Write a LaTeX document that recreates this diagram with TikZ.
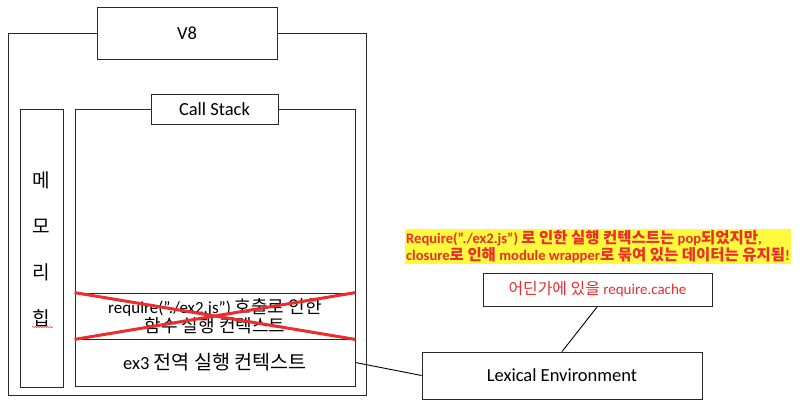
\documentclass[tikz,border=0pt]{standalone}
\usepackage{fontspec}
\setmainfont{Carlito}
\newfontfamily\kr{Noto Sans CJK KR}[Scale=1.06]
\usetikzlibrary{decorations.pathmorphing}
\definecolor{xred}{RGB}{235,45,45}
\definecolor{hl}{RGB}{255,250,60}
\definecolor{bx}{RGB}{40,40,40}
\tikzset{
  box/.style={draw=bx, line width=0.8pt, fill=white, inner sep=0pt, font=\fontsize{18.5}{21}\selectfont},
  heapch/.style={font=\kr\fontsize{18}{20}\selectfont},
  link/.style={draw=black, line width=0.9pt},
  cross/.style={draw=xred, line width=3pt},
}
\begin{document}
\begin{tikzpicture}[x=1pt,y=-1pt]
\useasboundingbox (0,0) rectangle (800,413);
% V8 frame
\node[box, minimum width=358, minimum height=362] (v8frame) at (187,214) {};
\node[box, minimum width=180, minimum height=52] (v8) at (187,33) {V8};
% heap
\node[box, minimum width=43, minimum height=278] (heap) at (41.5,248) {};
\node[heapch] (h1) at (41.5,180) {메};
\node[heapch] (h2) at (41.5,226) {모};
\node[heapch] (h3) at (41.5,272) {리};
\node[heapch] (h4) at (41.5,318) {힙};
\draw[xred, line width=0.5pt, decorate, decoration={snake, amplitude=0.6pt, segment length=2.5pt}] (32,327) -- (53,327);
% call stack
\node[box, minimum width=280, minimum height=277] (cs) at (215,247.5) {};
\node[box, minimum width=127, minimum height=30] (cslabel) at (214.5,109) {Call Stack};
\node[box, minimum width=280, minimum height=46, align=center, font=\fontsize{17}{18.5}\selectfont] (req) at (215,316)
  {require("./ex2.js") {\kr 호출로 인한}\\{\kr 함수 실행 컨텍스트}};
\node[box, minimum width=280, minimum height=47] (ex3) at (215,362.5) {ex3 {\kr 전역 실행 컨텍스트}};
\draw[cross] (req.north west) -- (req.south east);
\draw[cross] (req.south west) -- (req.north east);
% note
\node[fill=hl, text=xred, inner xsep=1pt, inner ysep=1.5pt, align=left, font=\bfseries\fontsize{14.6}{17}\selectfont] (note) at (598,246.5)
  {Require(”./ex2.js”) {\kr\bfseries 로 인한 실행 컨텍스트는} pop{\kr\bfseries 되었지만},\\
   closure{\kr\bfseries 로 인해} module wrapper{\kr\bfseries 로 묶여 있는 데이터는 유지됨}!};
\node[box, minimum width=229, minimum height=33, text=xred, font=\fontsize{15}{17}\selectfont] (cache) at (597.5,289.5) {{\kr 어딘가에 있을} require.cache};
\node[box, minimum width=280, minimum height=47] (lex) at (562,375.5) {Lexical Environment};
\draw[link] (cache.south) -- (lex.north);
\draw[link] (ex3.east) -- (lex.west);
\end{tikzpicture}
\end{document}
